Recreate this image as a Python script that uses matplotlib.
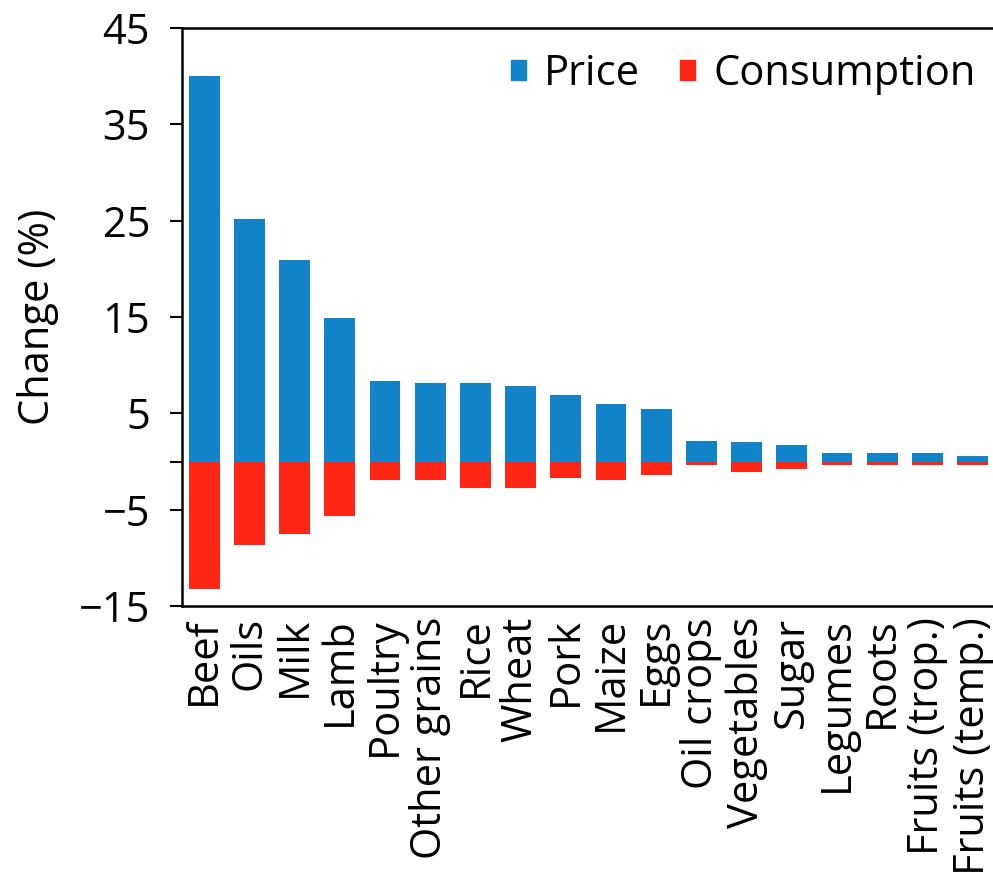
import numpy as np
import matplotlib
matplotlib.use('Agg')
import matplotlib.pyplot as plt
from matplotlib.patches import Patch

# Datos
categorias = ['Beef', 'Oils', 'Milk', 'Lamb', 'Poultry', 'Other grains', 'Rice',
              'Wheat', 'Pork', 'Maize', 'Eggs', 'Oil crops', 'Vegetables', 'Sugar',
              'Legumes', 'Roots', 'Fruits (trop.)', 'Fruits (temp.)']
precio = [40.0, 25.2, 20.9, 14.9, 8.4, 8.1, 8.1, 7.8, 6.9, 6.0, 5.4, 2.1, 2.0,
          1.7, 0.85, 0.85, 0.85, 0.55]
consumo = [-13.2, -8.7, -7.5, -5.7, -1.9, -1.9, -2.8, -2.8, -1.7, -1.9, -1.35,
           -0.4, -1.05, -0.75, -0.4, -0.4, -0.4, -0.4]
yticks = [-15, -5, 0, 5, 15, 25, 35, 45]
yticklabels = ['\u221215', '\u22125', '', '5', '15', '25', '35', '45']

azul = '#1283c9'
rojo = '#ff2616'

plt.rcParams['font.family'] = ['Open Sans', 'DejaVu Sans']

fig = plt.figure(figsize=(9.93, 8.94), dpi=100)
ax = fig.add_axes([182 / 993, 1 - 606 / 894, 1 - 182 / 993, (606 - 28) / 894])

x = np.arange(len(categorias))
ax.bar(x, precio, width=0.68, color=azul)
ax.bar(x, consumo, width=0.68, color=rojo)

ax.set_xlim(-0.49, 17.45)
ax.set_ylim(-15, 45)
ax.set_yticks(yticks)
ax.set_yticklabels(yticklabels, fontsize=30)
ax.set_xticks(x)
ax.set_xticklabels(categorias, rotation=90, fontsize=30, va='top')
ax.tick_params(axis='x', length=0, pad=8)
ax.tick_params(axis='y', length=9, width=1.5, pad=14)
ax.set_ylabel('Change (%)', fontsize=30, labelpad=14)

for lado in ['left', 'bottom', 'top']:
    ax.spines[lado].set_linewidth(1.8)
ax.spines['right'].set_visible(False)

manejadores = [Patch(color=azul, label='Price'), Patch(color=rojo, label='Consumption')]
ax.legend(handles=manejadores, loc='upper right', ncol=2, frameon=False,
          fontsize=30, handlelength=0.36, handleheight=0.36, handletextpad=0.45,
          columnspacing=0.95, borderaxespad=0.3, bbox_to_anchor=(1.015, 1.008))

fig.savefig('out.png', dpi=100)
